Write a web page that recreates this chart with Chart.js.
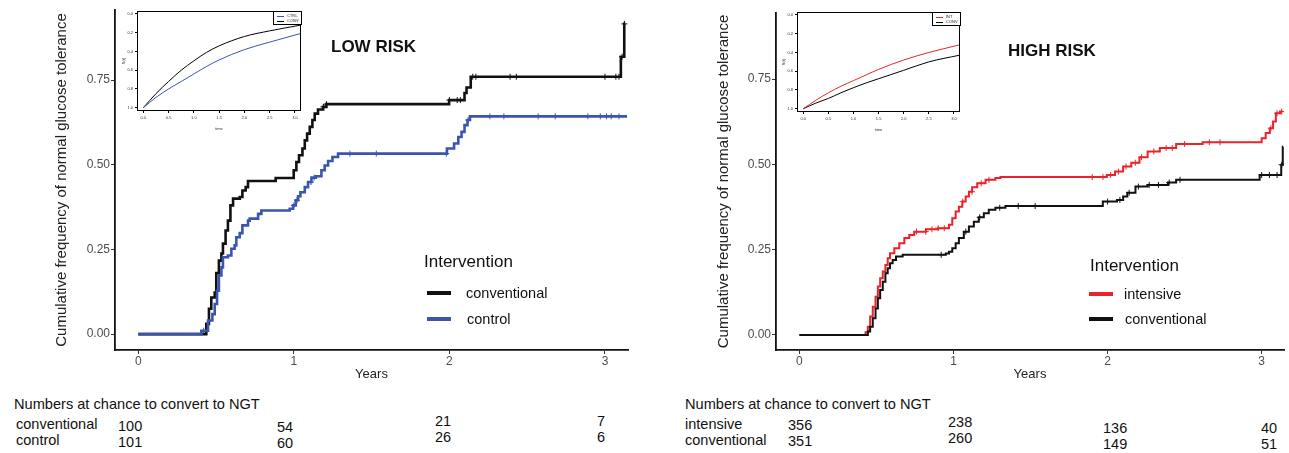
<!DOCTYPE html>
<html>
<head>
<meta charset="utf-8">
<script src="https://cdn.jsdelivr.net/npm/chart.js@4.4.0/dist/chart.umd.min.js"></script>
<style>
  body { margin: 0; background: #fff; font-family: "Liberation Sans", Arial, sans-serif; }
  #wrap { position: relative; width: 1289px; height: 453px; overflow: hidden; background: #fff; }
  canvas { position: absolute; }
  .t { position: absolute; white-space: nowrap; color: #111; line-height: 1; }
  .key { position: absolute; width: 24px; height: 4px; }
  .leg { position: absolute; width: 27px; height: 12px; border: 1px solid #000; background: #fff; }
  .leg span { position: absolute; font-size: 4px; line-height: 1; color: #222; }
  .leg i { position: absolute; width: 7px; height: 1px; }
</style>
</head>
<body>
<div id="wrap">
  <canvas id="lowChart" width="645" height="390" style="left:0;top:0"></canvas>
  <canvas id="highChart" width="627" height="390" style="left:662px;top:0"></canvas>
  <canvas id="lowInset" width="190" height="130" style="left:118px;top:6px"></canvas>
  <canvas id="highInset" width="189" height="130" style="left:778px;top:7px"></canvas>

  <div class="leg" style="left:273px;top:11px">
    <i style="left:3px;top:4px;background:#3a55b0"></i><span style="left:13px;top:2px">CTRL</span>
    <i style="left:3px;top:9px;background:#000"></i><span style="left:13px;top:7px">CONV</span>
  </div>
  <div class="leg" style="left:932px;top:12px">
    <i style="left:3px;top:4px;background:#e8242a"></i><span style="left:13px;top:2px">INT</span>
    <i style="left:3px;top:9px;background:#000"></i><span style="left:13px;top:7px">CONV</span>
  </div>

  <div class="t" style="left:331px;top:38px;font-size:17px;font-weight:bold">LOW RISK</div>
  <div class="t" style="left:1008px;top:42px;font-size:17px;font-weight:bold">HIGH RISK</div>

  <div class="t" style="left:424px;top:253px;font-size:17px">Intervention</div>
  <div class="key" style="left:427px;top:291px;background:#111"></div>
  <div class="t" style="left:466px;top:286px;font-size:14.5px">conventional</div>
  <div class="key" style="left:427px;top:317px;background:#3a55b0"></div>
  <div class="t" style="left:467px;top:312px;font-size:14.5px">control</div>

  <div class="t" style="left:1090px;top:257px;font-size:17px">Intervention</div>
  <div class="key" style="left:1089px;top:292px;background:#e8242a"></div>
  <div class="t" style="left:1124px;top:287px;font-size:14.5px">intensive</div>
  <div class="key" style="left:1089px;top:317px;background:#111"></div>
  <div class="t" style="left:1125px;top:312px;font-size:14.5px">conventional</div>

  <div class="t" style="left:14px;top:397px;font-size:14.6px">Numbers at chance to convert to NGT</div>
  <div class="t" style="left:685px;top:397px;font-size:14.6px">Numbers at chance to convert to NGT</div>
  <div id="tables"></div>
</div>
<script>
const FONT = '"Liberation Sans", Arial, sans-serif';

// axis ticks
const yearTicks = [0, 1, 2, 3];
const freqTicks = [0, 0.25, 0.5, 0.75];
const insetXTicks = [0, 0.5, 1, 1.5, 2, 2.5, 3];
const insetYTicks = [0, 0.2, 0.4, 0.6, 0.8, 1];

// LOW RISK step curves (years, cumulative frequency)
const lowConvT = [0, 0.437, 0.454, 0.469, 0.491, 0.501, 0.518, 0.534, 0.544, 0.561, 0.576, 0.592, 0.609, 0.652, 0.669, 0.690, 0.705, 0.883, 0.999, 1.016, 1.033, 1.055, 1.070, 1.085, 1.102, 1.119, 1.134, 1.155, 1.188, 1.209, 1.998, 2.097, 2.110, 2.137, 3.102, 3.124, 3.13];
const lowConvV = [0, 0.03, 0.075, 0.108, 0.123, 0.18, 0.217, 0.238, 0.267, 0.306, 0.335, 0.38, 0.40, 0.405, 0.424, 0.434, 0.452, 0.461, 0.484, 0.508, 0.528, 0.548, 0.572, 0.592, 0.612, 0.632, 0.651, 0.663, 0.671, 0.679, 0.691, 0.712, 0.728, 0.760, 0.819, 0.916, 0.916];
const lowCtrlT = [0, 0.405, 0.448, 0.476, 0.491, 0.506, 0.518, 0.534, 0.544, 0.576, 0.598, 0.619, 0.630, 0.652, 0.669, 0.705, 0.716, 0.770, 0.791, 0.973, 0.995, 1.012, 1.027, 1.042, 1.070, 1.091, 1.113, 1.141, 1.177, 1.198, 1.220, 1.248, 1.284, 1.984, 2.030, 2.057, 2.078, 2.097, 2.116, 2.132, 3.142];
const lowCtrlV = [0, 0.01, 0.04, 0.059, 0.089, 0.128, 0.173, 0.197, 0.227, 0.232, 0.252, 0.262, 0.286, 0.298, 0.321, 0.335, 0.341, 0.355, 0.365, 0.37, 0.38, 0.395, 0.407, 0.419, 0.434, 0.449, 0.462, 0.466, 0.484, 0.498, 0.511, 0.523, 0.533, 0.548, 0.563, 0.582, 0.597, 0.617, 0.632, 0.643, 0.643];
// censoring marks
const lowConvCensT = [1.19, 1.21, 2.0, 2.05, 2.07, 2.15, 2.17, 2.39, 2.43, 3.0, 3.07, 3.09, 3.11, 3.125];
const lowConvCensV = [0.671, 0.679, 0.691, 0.691, 0.691, 0.760, 0.760, 0.760, 0.760, 0.760, 0.760, 0.760, 0.819, 0.916];
const lowCtrlCensT = [0.42, 1.0, 1.02, 1.11, 1.13, 1.36, 1.53, 1.98, 2.12, 2.26, 2.35, 2.57, 2.68, 2.89, 2.97, 3.01, 3.04, 3.09];
const lowCtrlCensV = [0.01, 0.38, 0.395, 0.449, 0.462, 0.533, 0.533, 0.533, 0.632, 0.643, 0.643, 0.643, 0.643, 0.643, 0.643, 0.643, 0.643, 0.643];

// HIGH RISK step curves
const hiIntT = [0, 0.429, 0.444, 0.459, 0.476, 0.494, 0.509, 0.524, 0.541, 0.558, 0.573, 0.588, 0.616, 0.648, 0.681, 0.713, 0.745, 0.821, 0.900, 0.971, 0.992, 1.014, 1.035, 1.057, 1.079, 1.100, 1.121, 1.154, 1.208, 1.272, 1.305, 1.995, 2.048, 2.101, 2.154, 2.207, 2.260, 2.339, 2.445, 2.617, 3.000, 3.026, 3.053, 3.074, 3.092, 3.119, 3.135];
const hiIntV = [0, 0.008, 0.024, 0.054, 0.083, 0.112, 0.142, 0.166, 0.186, 0.205, 0.225, 0.240, 0.254, 0.269, 0.284, 0.293, 0.303, 0.310, 0.313, 0.323, 0.342, 0.362, 0.376, 0.391, 0.406, 0.420, 0.433, 0.445, 0.455, 0.460, 0.463, 0.469, 0.479, 0.494, 0.505, 0.521, 0.538, 0.548, 0.560, 0.565, 0.577, 0.592, 0.606, 0.626, 0.650, 0.655, 0.655];
const hiConvT = [0, 0.444, 0.459, 0.476, 0.494, 0.509, 0.524, 0.541, 0.558, 0.573, 0.588, 0.605, 0.627, 0.670, 0.950, 0.971, 0.992, 1.014, 1.035, 1.067, 1.100, 1.132, 1.164, 1.197, 1.229, 1.272, 1.337, 1.969, 2.061, 2.101, 2.128, 2.181, 2.260, 2.392, 2.445, 2.987, 3.127, 3.137, 3.14];
const hiConvV = [0, 0.010, 0.024, 0.049, 0.078, 0.108, 0.132, 0.156, 0.181, 0.196, 0.210, 0.220, 0.230, 0.235, 0.239, 0.244, 0.254, 0.269, 0.284, 0.303, 0.318, 0.332, 0.345, 0.357, 0.367, 0.373, 0.378, 0.391, 0.396, 0.406, 0.417, 0.435, 0.440, 0.447, 0.455, 0.469, 0.499, 0.552, 0.552];
const hiIntCensT = [0.76, 0.82, 0.86, 0.90, 0.94, 1.06, 1.12, 1.18, 1.23, 1.9, 1.97, 2.02, 2.07, 2.12, 2.18, 2.22, 2.3, 2.38, 2.42, 2.5, 2.66, 2.73, 3.06, 3.1, 3.13];
const hiIntCensV = [0.303, 0.303, 0.310, 0.313, 0.313, 0.391, 0.420, 0.445, 0.455, 0.463, 0.463, 0.469, 0.479, 0.494, 0.505, 0.521, 0.538, 0.548, 0.548, 0.560, 0.565, 0.565, 0.606, 0.650, 0.655];
const hiConvCensT = [0.92, 1.08, 1.17, 1.30, 1.42, 1.53, 2.0, 2.08, 2.14, 2.2, 2.27, 2.33, 2.4, 2.47, 3.0, 3.05, 3.1, 3.13];
const hiConvCensV = [0.235, 0.303, 0.345, 0.373, 0.378, 0.378, 0.391, 0.396, 0.417, 0.435, 0.440, 0.440, 0.447, 0.455, 0.469, 0.469, 0.469, 0.499];

// inset model curves S(t)
const insetT = [0, 0.25, 0.5, 0.75, 1.0, 1.25, 1.5, 2.0, 2.5, 3.1];
const lowInsetConv = [1.0, 0.85, 0.72, 0.60, 0.50, 0.41, 0.34, 0.24, 0.18, 0.12];
const lowInsetCtrl = [1.0, 0.89, 0.80, 0.72, 0.64, 0.56, 0.49, 0.38, 0.30, 0.21];
const highInsetInt = [1.0, 0.91, 0.83, 0.76, 0.70, 0.64, 0.58, 0.48, 0.40, 0.32];
const highInsetConv = [1.0, 0.94, 0.89, 0.83, 0.775, 0.725, 0.68, 0.59, 0.50, 0.43];

// numbers at risk
const lowRowNames = ['conventional', 'control'];
const lowAtRisk = [[100, 54, 21, 7], [101, 60, 26, 6]];
const highRowNames = ['intensive', 'conventional'];
const highAtRisk = [[356, 238, 136, 40], [351, 260, 149, 51]];

const BLACK = '#111111', BLUE = '#3a55b0', RED = '#e8242a';

function pts(ts, vs) { return ts.map((t, i) => ({ x: t, y: vs[i] })); }

function stepSet(ts, vs, color, width) {
  return { data: pts(ts, vs), borderColor: color, borderWidth: width, stepped: 'before', pointRadius: 0, fill: false };
}
function censorSet(ts, vs, color) {
  return { data: pts(ts, vs), showLine: false, pointStyle: 'cross', pointRadius: 3, borderColor: color, borderWidth: 1 };
}
function curveSet(vs, color) {
  return { data: pts(insetT, vs), borderColor: color, borderWidth: 1, pointRadius: 0, tension: 0.4, cubicInterpolationMode: 'monotone', fill: false };
}

function mainOptions(xMin, xMax, yMin, yMax, padTop, padRight, yWidth) {
  return {
    responsive: false, animation: false, events: [],
    layout: { padding: { top: padTop, right: padRight, left: 0, bottom: 0 } },
    plugins: { legend: { display: false }, tooltip: { enabled: false } },
    scales: {
      x: {
        type: 'linear', min: xMin, max: xMax,
        afterBuildTicks: s => { s.ticks = yearTicks.map(v => ({ value: v })); },
        afterFit: s => { s.height = 40; },
        ticks: { color: '#4d4d4d', font: { size: 12, family: FONT }, padding: 0, callback: v => String(v) },
        grid: { drawOnChartArea: false, color: '#333', tickLength: 4, tickWidth: 1 },
        border: { color: '#111', width: 1.8 },
        title: { display: true, text: 'Years', color: '#222', font: { size: 13, family: FONT }, padding: { top: 0, bottom: 8 } }
      },
      y: {
        min: yMin, max: yMax,
        afterBuildTicks: s => { s.ticks = freqTicks.map(v => ({ value: v })); },
        afterFit: s => { s.width = yWidth; },
        ticks: { color: '#4d4d4d', font: { size: 12, family: FONT }, padding: 1, callback: v => v.toFixed(2) },
        grid: { drawOnChartArea: false, color: '#333', tickLength: 4, tickWidth: 1 },
        border: { color: '#111', width: 1.8 },
        title: { display: true, text: 'Cumulative frequency of normal glucose tolerance', color: '#222', font: { size: 15, family: FONT }, padding: { top: 53, bottom: 0 } }
      }
    }
  };
}

const boxPlugin = {
  id: 'box',
  afterDraw(c) {
    const a = c.chartArea, ctx = c.ctx;
    ctx.save();
    ctx.strokeStyle = '#000';
    ctx.lineWidth = 1;
    ctx.strokeRect(Math.round(a.left) + 0.5, Math.round(a.top) + 0.5, Math.round(a.width) - 1, Math.round(a.height) - 1);
    ctx.restore();
  }
};

function insetOptions() {
  const small = { size: 4, family: FONT };
  return {
    responsive: false, animation: false, events: [],
    layout: { padding: { top: 5, right: 7, left: 0, bottom: 0 } },
    plugins: { legend: { display: false }, tooltip: { enabled: false } },
    scales: {
      x: {
        type: 'linear', min: -0.125, max: 3.12,
        afterBuildTicks: s => { s.ticks = insetXTicks.map(v => ({ value: v })); },
        afterFit: s => { s.height = 25; },
        ticks: { font: small, color: '#333', padding: 2, autoSkip: false, maxRotation: 0, callback: v => v.toFixed(1) },
        grid: { drawOnChartArea: false, color: '#000', tickLength: 2 },
        border: { display: false },
        title: { display: true, text: 'time', font: small, color: '#333', padding: { top: 0, bottom: 5 } }
      },
      y: {
        reverse: true, min: -0.032, max: 1.035,
        afterBuildTicks: s => { s.ticks = insetYTicks.map(v => ({ value: v })); },
        afterFit: s => { s.width = 19; },
        ticks: { font: small, color: '#333', padding: 2, autoSkip: false, callback: v => v.toFixed(1) },
        grid: { drawOnChartArea: false, color: '#000', tickLength: 2 },
        border: { display: false },
        title: { display: true, text: 'S(t)', font: small, color: '#333', padding: { top: 3, bottom: 0 } }
      }
    }
  };
}

new Chart(document.getElementById('lowChart'), {
  type: 'line',
  data: { datasets: [
    stepSet(lowCtrlT, lowCtrlV, BLUE, 2.6),
    stepSet(lowConvT, lowConvV, BLACK, 2.6),
    censorSet(lowCtrlCensT, lowCtrlCensV, BLUE),
    censorSet(lowConvCensT, lowConvCensV, BLACK)
  ] },
  options: mainOptions(-0.15, 3.148, -0.047, 0.957, 10, 17, 115)
});

new Chart(document.getElementById('highChart'), {
  type: 'line',
  data: { datasets: [
    stepSet(hiConvT, hiConvV, BLACK, 2),
    stepSet(hiIntT, hiIntV, RED, 2),
    censorSet(hiConvCensT, hiConvCensV, BLACK),
    censorSet(hiIntCensT, hiIntCensV, RED)
  ] },
  options: mainOptions(-0.152, 3.145, -0.044, 0.944, 13, 2, 114)
});

new Chart(document.getElementById('lowInset'), {
  type: 'line',
  data: { datasets: [curveSet(lowInsetCtrl, BLUE), curveSet(lowInsetConv, '#000')] },
  options: insetOptions(),
  plugins: [boxPlugin]
});

new Chart(document.getElementById('highInset'), {
  type: 'line',
  data: { datasets: [curveSet(highInsetInt, RED), curveSet(highInsetConv, '#000')] },
  options: insetOptions(),
  plugins: [boxPlugin]
});

// numbers-at-risk tables
function addTable(left, names, rows, cols, colDy) {
  const box = document.getElementById('tables');
  names.forEach((name, r) => {
    const top = 417 + r * 16;
    const label = document.createElement('div');
    label.className = 't';
    label.style.cssText = `left:${left}px;top:${top}px;font-size:14.5px`;
    label.textContent = name;
    box.appendChild(label);
    rows[r].forEach((n, c) => {
      const d = document.createElement('div');
      d.className = 't';
      d.style.cssText = `left:${cols[c]}px;top:${top + colDy[c]}px;font-size:14.5px`;
      d.textContent = n;
      box.appendChild(d);
    });
  });
}
addTable(16, lowRowNames, lowAtRisk, [118, 277, 435, 597], [2, 3, -3, -3]);
addTable(685, highRowNames, highAtRisk, [788, 948, 1103, 1261], [1, -2, 4, 4]);
</script>
</body>
</html>
